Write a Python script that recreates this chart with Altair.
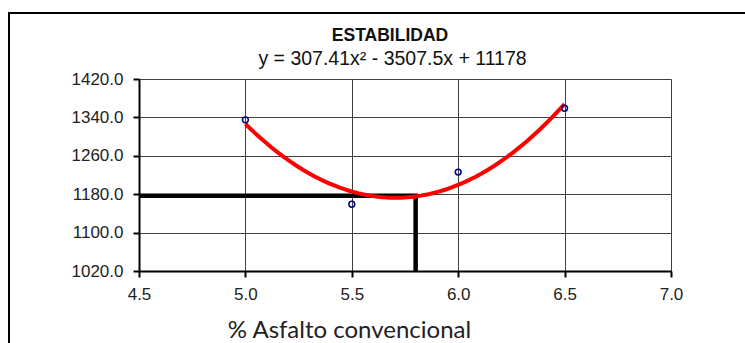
import altair as alt
import pandas as pd

# Data
asfalto = [5.0, 5.5, 6.0, 6.5]
estabilidad = [1335, 1159, 1226, 1359]
ref_x = [4.5, 5.8, 5.8]
ref_y = [1177, 1177, 1020]
ref_order = [0, 1, 2]
x_ticks = [4.5, 5.0, 5.5, 6.0, 6.5, 7.0]
y_ticks = [1020, 1100, 1180, 1260, 1340, 1420]
title_text = ["ESTABILIDAD"]
subtitle_text = ["y = 307.41x² - 3507.5x + 11178"]

pts = pd.DataFrame({"x": asfalto, "y": estabilidad})
ref = pd.DataFrame({"x": ref_x, "y": ref_y, "o": ref_order})
frame = pd.DataFrame({"k": [0]})
ttl = pd.DataFrame({"t": title_text})
sub = pd.DataFrame({"t": subtitle_text})

xs = alt.Scale(domain=[4.5, 7.0], nice=False, zero=False)
ys = alt.Scale(domain=[1020, 1420], nice=False, zero=False)

xaxis = alt.Axis(
    values=x_ticks, tickCount=len(x_ticks), format=".1f",
    title="% Asfalto convencional",
    grid=True, gridColor="#404040", gridWidth=1,
    domainColor="black", domainWidth=2,
    tickColor="black", tickWidth=2, tickSize=6,
    labelFont="Liberation Sans", labelFontSize=17, labelColor="#222",
    labelPadding=9, labelFlush=False, labelOverlap=False,
    titleFont="Lato", titleFontSize=24, titleFontWeight="normal",
    titleColor="#222", titleX=210, titleY=66, titleAlign="center",
    titleBaseline="alphabetic",
)
yaxis = alt.Axis(
    values=y_ticks, tickCount=len(y_ticks), format=".1f", title=None,
    grid=True, gridColor="#404040", gridWidth=1,
    domainColor="black", domainWidth=2,
    tickColor="black", tickWidth=2, tickSize=6,
    labelFont="Liberation Sans", labelFontSize=17, labelColor="#222",
    labelPadding=10, labelFlush=False, labelOverlap=False,
)

border = alt.Chart(frame).mark_rect(
    filled=False, stroke="black", strokeWidth=2
).encode(
    x=alt.value(-130), x2=alt.value(640), y=alt.value(-66), y2=alt.value(290)
)

title_mark = alt.Chart(ttl).mark_text(
    font="Liberation Sans", fontSize=17.5, fontWeight="bold", color="#111",
    align="center", baseline="alphabetic"
).encode(text="t:N", x=alt.value(251), y=alt.value(-37.7))

subtitle_mark = alt.Chart(sub).mark_text(
    font="Liberation Sans", fontSize=19.5, color="#111",
    align="center", baseline="alphabetic"
).encode(text="t:N", x=alt.value(253.5), y=alt.value(-14.3))

ref_line = alt.Chart(ref).mark_line(
    color="black", strokeWidth=4.5, strokeJoin="miter", strokeCap="butt"
).encode(
    x=alt.X("x:Q", scale=xs, axis=xaxis),
    y=alt.Y("y:Q", scale=ys, axis=yaxis),
    order="o:O",
)

curve = alt.Chart(pts).transform_regression(
    "x", "y", method="poly", order=2, extent=[5.0, 6.5]
).mark_line(color="#ff0000", strokeWidth=4).encode(
    x=alt.X("x:Q", scale=xs), y=alt.Y("y:Q", scale=ys)
)

points = alt.Chart(pts).mark_point(
    shape="circle", filled=False, color="#000080", size=34, strokeWidth=1.5, opacity=1
).encode(
    x=alt.X("x:Q", scale=xs), y=alt.Y("y:Q", scale=ys)
)

chart = alt.layer(ref_line, curve, points, border, title_mark, subtitle_mark).properties(
    width=532,
    height=192,
    autosize=alt.AutoSizeParams(type="none"),
    padding={"left": 139, "top": 79, "right": 74, "bottom": 72},
).configure_view(stroke="#333", strokeWidth=2).configure(background="white")

chart.save("out.html", embed_options={"renderer": "svg", "actions": False})
